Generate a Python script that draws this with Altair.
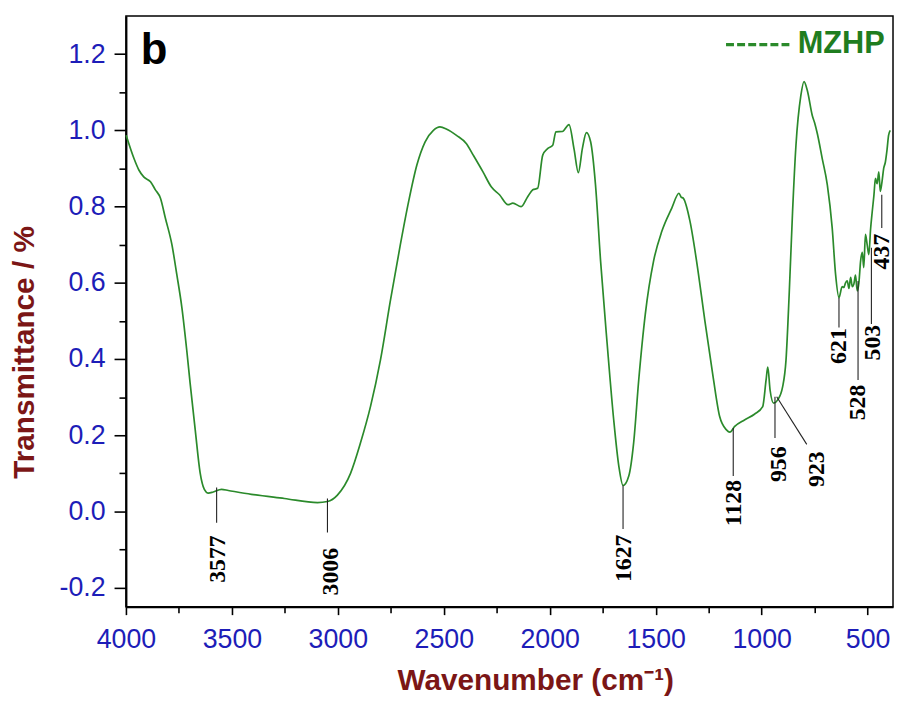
import altair as alt
import pandas as pd

# ---- spectrum (wavenumber cm-1, transmittance) ----
wavenumber = [3999, 3962, 3939, 3916, 3884, 3861, 3837, 3814, 3783, 3760, 3736, 3713, 3697,
              3673, 3650, 3630, 3611, 3588, 3549, 3517, 3408, 3252, 3096, 3049, 3002, 2940,
              2893, 2846, 2799, 2752, 2705, 2666, 2627, 2588, 2549, 2518, 2486, 2440, 2393,
              2361, 2315, 2276, 2237, 2197, 2174, 2135, 2104, 2080, 2057, 2033, 2010, 1986,
              1971, 1940, 1909, 1885, 1865, 1846, 1827, 1807, 1784, 1760, 1729, 1698, 1674,
              1654, 1627, 1604, 1580, 1549, 1510, 1471, 1424, 1390, 1380, 1370, 1338, 1307,
              1268, 1229, 1198, 1166, 1150, 1127, 1081, 1034, 995, 979, 971, 960, 943, 925,
              901, 885, 870, 854, 838, 815, 800, 784, 761, 750, 737, 714, 690, 667, 651, 635,
              620, 612, 604, 596, 588, 580, 572, 565, 557, 549, 541, 533, 525, 518, 510, 502,
              494, 486, 478, 470, 463, 455, 447, 440, 432, 424, 416, 408, 401, 393]
transmittance = [0.987, 0.926, 0.896, 0.878, 0.865, 0.844, 0.822, 0.770, 0.700, 0.622, 0.535,
                 0.423, 0.336, 0.214, 0.102, 0.058, 0.048, 0.051, 0.058, 0.055, 0.045, 0.034,
                 0.023, 0.026, 0.043, 0.100, 0.180, 0.275, 0.397, 0.553, 0.700, 0.813, 0.909,
                 0.970, 1.000, 1.009, 1.003, 0.987, 0.965, 0.935, 0.891, 0.852, 0.831, 0.805,
                 0.809, 0.800, 0.826, 0.844, 0.848, 0.935, 0.952, 0.961, 0.996, 0.997, 1.015,
                 0.950, 0.889, 0.952, 0.994, 0.970, 0.857, 0.657, 0.440, 0.240, 0.119, 0.068,
                 0.093, 0.180, 0.345, 0.518, 0.657, 0.735, 0.796, 0.835, 0.825, 0.822, 0.761,
                 0.657, 0.501, 0.353, 0.249, 0.214, 0.208, 0.223, 0.240, 0.255, 0.275, 0.345,
                 0.379, 0.318, 0.284, 0.292, 0.327, 0.397, 0.570, 0.787, 0.961, 1.091, 1.128,
                 1.104, 1.039, 1.020, 0.991, 0.926, 0.857, 0.744, 0.622, 0.561, 0.590, 0.588,
                 0.600, 0.605, 0.585, 0.614, 0.590, 0.596, 0.620, 0.579, 0.600, 0.657, 0.680,
                 0.640, 0.727, 0.700, 0.674, 0.740, 0.787, 0.830, 0.874, 0.860, 0.891, 0.840,
                 0.865, 0.900, 0.917, 0.950, 0.987, 1.000]

# ---- peak annotations ----
ann_label = ["3577", "3006", "1627", "1128", "956", "923", "621", "528", "503", "437"]
ann_x1 = [3572, 3049, 1654, 1134, 937, 929, 635, 545, 482, 433]
ann_y1 = [0.0625, 0.034, 0.068, 0.219, 0.301, 0.301, 0.561, 0.605, 0.692, 0.831]
ann_x2 = [3572, 3049, 1654, 1134, 937, 787, 635, 545, 482, 433]
ann_y2 = [-0.030, -0.055, -0.046, 0.093, 0.193, 0.176, 0.483, 0.345, 0.492, 0.744]
ann_tx = [3564, 3033, 1651, 1131, 917, 740, 635, 545, 475, 433]
ann_ty = [-0.125, -0.158, -0.123, 0.022, 0.124, 0.111, 0.434, 0.286, 0.443, 0.682]

# ---- axis ticks ----
x_ticks = [4000, 3750, 3500, 3250, 3000, 2750, 2500, 2250, 2000, 1750, 1500, 1250, 1000, 750, 500]
y_ticks = [-0.2, -0.1, 0.0, 0.1, 0.2, 0.3, 0.4, 0.5, 0.6, 0.7, 0.8, 0.9, 1.0, 1.1, 1.2]

# ---- panel letter and legend ----
panel_letter = ["b"]
panel_pos = [3930, 1.173]
legend_name = ["MZHP"]
legend_line = [1168, 869, 1.225]
legend_text_pos = [830, 1.203]

GREEN = "#2b8a2b"
BLUE = "#1d1db8"
RED = "#7b1616"

curve_df = pd.DataFrame({"wn": wavenumber, "t": transmittance})
ann_df = pd.DataFrame({"label": ann_label, "wn": ann_x1, "t": ann_y1, "wn2": ann_x2, "t2": ann_y2})
ann_txt_df = pd.DataFrame({"label": ann_label, "wn": ann_tx, "t": ann_ty})
b_df = pd.DataFrame({"label": panel_letter, "wn": [panel_pos[0]], "t": [panel_pos[1]]})
leg_line_df = pd.DataFrame({"wn": [legend_line[0]], "wn2": [legend_line[1]], "t": [legend_line[2]]})
leg_txt_df = pd.DataFrame({"label": legend_name, "wn": [legend_text_pos[0]], "t": [legend_text_pos[1]]})

xscale = alt.Scale(domain=[380, 4000], reverse=True, nice=False, zero=False)
yscale = alt.Scale(domain=[-0.25, 1.3], nice=False, zero=False)

y_major = "abs(datum.value*5 - round(datum.value*5)) < 0.001"

xaxis = alt.Axis(
    values=x_ticks,
    labelExpr="datum.value % 500 == 0 ? format(datum.value, 'd') : ''",
    tickSize={"condition": {"test": "datum.value % 500 == 0", "value": 8}, "value": 6},
    labelFont="Liberation Sans", labelFontSize=27, labelColor=BLUE,
    labelPadding=12, labelOverlap=False, labelFlush=False,
    domainColor="black", domainWidth=2, tickColor="black", tickWidth=1.6, grid=False,
    title="Wavenumber (cm⁻¹)", titleFont="Liberation Sans", titleFontSize=30,
    titleFontWeight="bold", titleColor=RED, titleX=413, titleY=84,
    titleAlign="center", titleBaseline="alphabetic",
)
yaxis = alt.Axis(
    values=y_ticks,
    labelExpr=("abs(datum.value*5 - round(datum.value*5)) < 0.001 ? "
               "(datum.value < -0.001 ? '-' + format(-datum.value, '.1f') : format(abs(datum.value), '.1f')) : ''"),
    tickSize={"condition": {"test": y_major, "value": 12}, "value": 7},
    labelFont="Liberation Sans", labelFontSize=27, labelColor=BLUE,
    labelPadding=9, labelOverlap=False, labelFlush=False,
    domainColor="black", domainWidth=2, tickColor="black", tickWidth=1.6, grid=False,
    title="Transmittance / %", titleFont="Liberation Sans", titleFontSize=30,
    titleFontWeight="bold", titleColor=RED, titleX=-102, titleY=339,
    titleAlign="center", titleBaseline="middle", titleAngle=270,
)

X = alt.X("wn:Q", scale=xscale, axis=xaxis)
Y = alt.Y("t:Q", scale=yscale, axis=yaxis)

curve = alt.Chart(curve_df).mark_line(
    color=GREEN, strokeWidth=1.7, interpolate="monotone").encode(x=X, y=Y, order="wn:Q")

ann_lines = alt.Chart(ann_df).mark_rule(color="#222222", strokeWidth=1.1).encode(
    x=X, y=Y, x2="wn2:Q", y2="t2:Q")

ann_text = alt.Chart(ann_txt_df).mark_text(
    angle=270, font="Liberation Serif", fontWeight="bold", fontSize=24, color="black",
    align="center", baseline="middle").encode(x=X, y=Y, text="label:N")

b_text = alt.Chart(b_df).mark_text(
    font="Liberation Sans", fontWeight="bold", fontSize=44, color="black",
    align="left", baseline="alphabetic").encode(x=X, y=Y, text="label:N")

leg_line = alt.Chart(leg_line_df).mark_rule(
    color=GREEN, strokeWidth=3.5, strokeDash=[8, 3.2]).encode(x=X, x2="wn2:Q", y=Y)

leg_text = alt.Chart(leg_txt_df).mark_text(
    font="Liberation Sans", fontWeight="bold", fontSize=31, color="#1f7d1f",
    align="left", baseline="alphabetic").encode(x=X, y=Y, text="label:N")

chart = alt.layer(curve, ann_lines, ann_text, b_text, leg_line, leg_text).properties(
    width=774, height=596,
    autosize=alt.AutoSizeParams(type="none"),
    padding={"left": 119, "top": 5, "right": 1, "bottom": 89},
    background="white",
).configure_view(stroke="black", strokeWidth=1.5)

chart.save("out.html", embed_options={"renderer": "svg", "actions": False})
